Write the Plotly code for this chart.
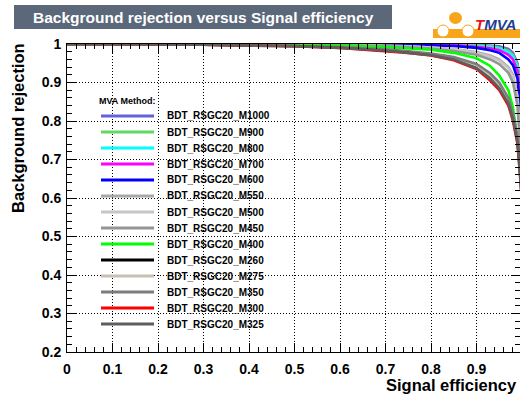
import plotly.graph_objects as go

# ---------------- data ----------------
signal_eff = [0.0, 0.1, 0.2, 0.3, 0.4, 0.5, 0.6, 0.7, 0.75, 0.8, 0.85, 0.9,
              0.93, 0.95, 0.97, 0.98, 0.99, 0.995, 0.998, 1.0]

methods = ["BDT_RSGC20_M1000", "BDT_RSGC20_M900", "BDT_RSGC20_M800", "BDT_RSGC20_M700",
           "BDT_RSGC20_M600", "BDT_RSGC20_M550", "BDT_RSGC20_M500", "BDT_RSGC20_M450",
           "BDT_RSGC20_M400", "BDT_RSGC20_M260", "BDT_RSGC20_M275", "BDT_RSGC20_M350",
           "BDT_RSGC20_M300", "BDT_RSGC20_M325"]

colors = ["#6262de", "#62d862", "#00ffff", "#ff00ff", "#0000ff", "#a8a8a8", "#c6c6c6",
          "#959595", "#00ff00", "#000000", "#c8c0b4", "#7c7c7c", "#ff0000", "#5e5e5e"]

rej_M1000 = [1, 1, 1, 1, 1, 1, 1, 1, 1, 1, 0.999, 0.998, 0.996, 0.994, 0.987, 0.977, 0.95, 0.90, 0.75, 0.60]
rej_M900 = [1, 1, 1, 1, 1, 1, 1, 1, 1, 0.999, 0.999, 0.997, 0.994, 0.99, 0.982, 0.972, 0.945, 0.89, 0.74, 0.60]
rej_M800 = [1, 1, 1, 1, 1, 1, 1, 1, 0.999, 0.999, 0.998, 0.995, 0.992, 0.988, 0.978, 0.967, 0.94, 0.88, 0.73, 0.60]
rej_M700 = [1, 1, 1, 1, 1, 1, 1, 0.999, 0.999, 0.998, 0.997, 0.993, 0.989, 0.984, 0.972, 0.96, 0.93, 0.87, 0.72, 0.60]
rej_M600 = [1, 1, 1, 1, 1, 1, 0.999, 0.999, 0.998, 0.997, 0.995, 0.99, 0.984, 0.977, 0.96, 0.945, 0.91, 0.84, 0.70, 0.60]
rej_M550 = [1, 1, 1, 1, 1, 0.999, 0.998, 0.996, 0.994, 0.991, 0.987, 0.979, 0.97, 0.96, 0.94, 0.92, 0.865, 0.78, 0.66, 0.60]
rej_M500 = [1, 1, 1, 1, 0.999, 0.999, 0.998, 0.996, 0.994, 0.991, 0.986, 0.977, 0.967, 0.957, 0.937, 0.915, 0.86, 0.77, 0.66, 0.60]
rej_M450 = [1, 1, 1, 1, 0.999, 0.998, 0.997, 0.994, 0.992, 0.988, 0.982, 0.972, 0.96, 0.948, 0.925, 0.90, 0.84, 0.75, 0.65, 0.60]
rej_M400 = [1, 1, 1, 0.999, 0.999, 0.998, 0.996, 0.992, 0.989, 0.985, 0.977, 0.963, 0.943, 0.918, 0.88, 0.835, 0.75, 0.68, 0.62, 0.60]
rej_M260 = [1, 1, 0.999, 0.998, 0.997, 0.995, 0.991, 0.984, 0.979, 0.973, 0.963, 0.942, 0.915, 0.89, 0.85, 0.81, 0.75, 0.68, 0.62, 0.60]
rej_M275 = [1, 1, 0.999, 0.998, 0.997, 0.995, 0.991, 0.985, 0.98, 0.974, 0.964, 0.944, 0.918, 0.893, 0.852, 0.812, 0.752, 0.68, 0.62, 0.60]
rej_M350 = [1, 1, 0.999, 0.998, 0.997, 0.995, 0.992, 0.986, 0.981, 0.975, 0.966, 0.948, 0.924, 0.90, 0.86, 0.82, 0.76, 0.69, 0.62, 0.60]
rej_M300 = [1, 1, 0.999, 0.998, 0.996, 0.994, 0.99, 0.982, 0.977, 0.97, 0.958, 0.935, 0.905, 0.88, 0.84, 0.80, 0.74, 0.67, 0.61, 0.59]
rej_M325 = [1, 1, 0.999, 0.998, 0.996, 0.994, 0.99, 0.983, 0.977, 0.971, 0.96, 0.937, 0.91, 0.885, 0.845, 0.805, 0.745, 0.67, 0.61, 0.59]

rejections = [rej_M1000, rej_M900, rej_M800, rej_M700, rej_M600, rej_M550, rej_M500,
              rej_M450, rej_M400, rej_M260, rej_M275, rej_M350, rej_M300, rej_M325]

x_ticks = [0, 0.1, 0.2, 0.3, 0.4, 0.5, 0.6, 0.7, 0.8, 0.9, 1.0]
x_tick_labels = ["0", "0.1", "0.2", "0.3", "0.4", "0.5", "0.6", "0.7", "0.8", "0.9", "1"]
y_ticks = [0.2, 0.3, 0.4, 0.5, 0.6, 0.7, 0.8, 0.9, 1.0]
y_tick_labels = ["0.2", "0.3", "0.4", "0.5", "0.6", "0.7", "0.8", "0.9", "1"]

# ---------------- layout geometry ----------------
W, H = 520, 399
ML, MR, MT, MB = 67, 0, 44, 47
PW, PH = W - ML - MR, H - MT - MB


def px(x):
    return (x - ML) / PW


def py(y):
    return 1 - (y - MT) / PH


FONT = "Liberation Sans, Arial, Helvetica, sans-serif"

fig = go.Figure()
for name, col, rej in zip(methods, colors, rejections):
    fig.add_trace(go.Scatter(x=signal_eff, y=rej, mode="lines", name=name,
                             line=dict(color=col, width=2.6), showlegend=False,
                             hoverinfo="skip"))

axis_common = dict(
    showline=True, linecolor="black", linewidth=1, mirror="allticks",
    ticks="inside", ticklen=9, tickwidth=1, tickcolor="black",
    minor=dict(ticks="inside", ticklen=5, tickcolor="black", dtick=0.02, showgrid=False),
    showgrid=True, gridcolor="black", griddash="1px,2px", gridwidth=1,
    zeroline=False,
    tickfont=dict(family=FONT, size=14, color="black", weight="bold"),
)

fig.update_xaxes(range=[0, 0.9955], tickvals=x_ticks, ticktext=x_tick_labels,
                 ticklabelstandoff=4, **axis_common)
fig.update_yaxes(range=[0.2, 1.0], tickvals=y_ticks, ticktext=y_tick_labels,
                 ticklabelstandoff=2, **axis_common)

shapes = []
annotations = []

# title box
shapes.append(dict(type="rect", xref="paper", yref="paper",
                   x0=px(14), x1=px(392), y0=py(29), y1=py(5),
                   fillcolor="#5b687a", line=dict(width=0), layer="above"))
annotations.append(dict(xref="paper", yref="paper", x=px(203), y=py(17),
                        text="Background rejection versus Signal efficiency",
                        showarrow=False, xanchor="center", yanchor="middle",
                        font=dict(family=FONT, size=15.5, color="white", weight="bold")))

# TMVA logo (approximation)
orange = "#f9a51a"
shapes.append(dict(type="rect", xref="paper", yref="paper",
                   x0=px(433), x1=px(520), y0=py(38), y1=py(29),
                   fillcolor=orange, line=dict(width=0), layer="above"))
shapes.append(dict(type="circle", xref="paper", yref="paper",
                   x0=px(449), x1=px(462), y0=py(24), y1=py(12),
                   fillcolor=orange, line=dict(width=0), layer="above"))
for cx in (443, 468):
    shapes.append(dict(type="circle", xref="paper", yref="paper",
                       x0=px(cx - 6), x1=px(cx + 6), y0=py(37), y1=py(25),
                       fillcolor="white", line=dict(color=orange, width=1), layer="above"))
annotations.append(dict(xref="paper", yref="paper", x=px(518), y=py(25),
                        text="<i><span style='color:#e8141c'>T</span>MVA</i>",
                        showarrow=False, xanchor="right", yanchor="middle",
                        font=dict(family=FONT, size=15, color="#1c3f94", weight="bold")))

# axis titles
annotations.append(dict(xref="paper", yref="paper", x=px(519), y=py(385),
                        text="Signal efficiency", showarrow=False,
                        xanchor="right", yanchor="middle",
                        font=dict(family=FONT, size=16.5, color="black", weight="bold")))
annotations.append(dict(xref="paper", yref="paper", x=px(18), y=py(128),
                        text="Background rejection", showarrow=False, textangle=-90,
                        xanchor="center", yanchor="middle",
                        font=dict(family=FONT, size=16.5, color="black", weight="bold")))

# legend (drawn manually from methods / colors lists)
annotations.append(dict(xref="paper", yref="paper", x=px(97), y=py(101),
                        text="MVA Method:", showarrow=False,
                        xanchor="left", yanchor="middle",
                        font=dict(family=FONT, size=9, color="black", weight="bold")))
for i, (name, col) in enumerate(zip(methods, colors)):
    yy = 116 + 16 * i
    shapes.append(dict(type="line", xref="paper", yref="paper",
                       x0=px(101), x1=px(154), y0=py(yy), y1=py(yy),
                       line=dict(color=col, width=3), layer="above"))
    annotations.append(dict(xref="paper", yref="paper", x=px(165), y=py(yy),
                            text=name, showarrow=False,
                            xanchor="left", yanchor="middle",
                            font=dict(family=FONT, size=10, color="black", weight="bold")))

fig.update_layout(
    width=W, height=H,
    margin=dict(l=ML, r=MR, t=MT, b=MB, pad=0),
    paper_bgcolor="white", plot_bgcolor="white",
    shapes=shapes, annotations=annotations,
    showlegend=False, hovermode=False,
)

fig.write_html("out.html",
               config={"displayModeBar": False, "staticPlot": True},
               post_script="document.body.style.margin='0';document.body.style.padding='0';"
                           "document.documentElement.style.overflow='hidden';")
